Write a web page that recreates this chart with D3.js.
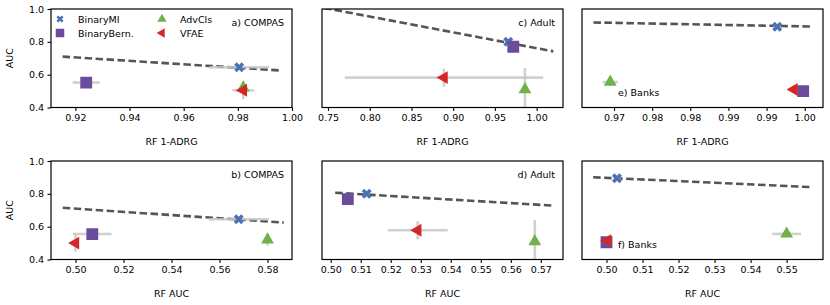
<!DOCTYPE html>
<html>
<head>
<meta charset="utf-8">
<script src="https://d3js.org/d3.v7.min.js"></script>
<style>
body { margin: 0; background: #fff; }
svg { font-family: "DejaVu Sans", sans-serif; }
</style>
</head>
<body>
<svg id="chart"></svg>
<script>

// Methods, in plotting order
var methods = ["BinaryMI", "BinaryBern.", "AdvCls", "VFAE"];
var colors = ["#4a72b8", "#6a4c9c", "#72b04a", "#d62728"];

// Panel ids and titles
var panelIds = ["a", "c", "e", "b", "d", "f"];
var panelTitles = ["a) COMPAS", "c) Adult", "e) Banks", "b) COMPAS", "d) Adult", "f) Banks"];
var xLabels = ["RF 1-ADRG", "RF 1-ADRG", "RF 1-ADRG", "RF AUC", "RF AUC", "RF AUC"];

// x domains
var xDomains = [[0.911, 1.0], [0.7428, 1.0316], [0.9658, 0.9974],
                [0.4898, 0.5902], [0.4971, 0.5774], [0.4932, 0.5601]];

// x ticks and their labels
var xTicks = [
  [0.92, 0.94, 0.96, 0.98, 1.00],
  [0.75, 0.80, 0.85, 0.90, 0.95, 1.00],
  [0.970, 0.975, 0.980, 0.985, 0.990, 0.995],
  [0.50, 0.52, 0.54, 0.56, 0.58],
  [0.50, 0.51, 0.52, 0.53, 0.54, 0.55, 0.56, 0.57],
  [0.50, 0.51, 0.52, 0.53, 0.54, 0.55]
];
var xTickLabels = [
  ["0.92", "0.94", "0.96", "0.98", "1.00"],
  ["0.75", "0.80", "0.85", "0.90", "0.95", "1.00"],
  ["0.97", "0.98", "0.98", "0.99", "0.99", "1.00"],
  ["0.50", "0.52", "0.54", "0.56", "0.58"],
  ["0.50", "0.51", "0.52", "0.53", "0.54", "0.55", "0.56", "0.57"],
  ["0.50", "0.51", "0.52", "0.53", "0.54", "0.55"]
];

var yTicks = [0.4, 0.6, 0.8, 1.0];
var yTickLabels = ["0.4", "0.6", "0.8", "1.0"];

// Point values per panel, one entry per method (MI, Bern, AdvCls, VFAE)
var xVals = [
  [0.9805, 0.924, 0.982, 0.982],
  [0.966, 0.972, 0.986, 0.889],
  [0.9914, 0.9948, 0.9695, 0.9936],
  [0.568, 0.507, 0.580, 0.500],
  [0.512, 0.5057, 0.568, 0.529],
  [0.5029, 0.5000, 0.550, 0.5003]
];
var yVals = [
  [0.645, 0.552, 0.52, 0.505],
  [0.80, 0.77, 0.51, 0.582],
  [0.892, 0.50, 0.555, 0.51],
  [0.645, 0.555, 0.52, 0.50],
  [0.80, 0.768, 0.51, 0.578],
  [0.895, 0.505, 0.556, 0.515]
];
var xErrs = [
  [0.011, 0.005, 0.001, 0.004],
  [0.004, 0.004, 0.0, 0.119],
  [0.0005, 0.0005, 0.001, 0.0005],
  [0.0125, 0.008, 0.0, 0.0],
  [0.001, 0.001, 0.0, 0.010],
  [0.001, 0.0005, 0.004, 0.0005]
];
var yErrs = [
  [0.01, 0.01, 0.03, 0.054],
  [0.01, 0.01, 0.13, 0.055],
  [0.005, 0.005, 0.005, 0.005],
  [0.01, 0.01, 0.035, 0.052],
  [0.005, 0.005, 0.13, 0.055],
  [0.005, 0.005, 0.005, 0.005]
];

// Dashed trend line: endpoints per panel
var trendX = [[0.9153, 0.9963], [0.745, 1.02], [0.9673, 0.9960],
              [0.4947, 0.5868], [0.5015, 0.5735], [0.4963, 0.5568]];
var trendY = [[0.710, 0.625], [1.007, 0.742], [0.918, 0.893],
              [0.715, 0.625], [0.807, 0.729], [0.901, 0.841]];

var width = 830, height = 305;
var colLeft = [51, 322, 582];
var axW = 241;
var rowTop = [9, 161];
var axH = 98.5;

var svg = d3.select("#chart").attr("width", width).attr("height", height);

// Marker shapes: X, square, up triangle, left triangle
function markerPath(i, scale) {
  var s = scale || 1;
  if (i === 0) return d3.symbol().type(d3.symbolCross).size(62 * s * s)();
  if (i === 1) return d3.symbol().type(d3.symbolSquare).size(140 * s * s)();
  return d3.symbol().type(d3.symbolTriangle).size(72 * s * s)();
}
function markerRotate(i) {
  if (i === 0) return 45;
  if (i === 3) return -90;
  return 0;
}

panelIds.forEach(function (id, p) {
  var col = p % 3, row = Math.floor(p / 3);
  var left = colLeft[col], top = rowTop[row];

  var x = d3.scaleLinear().domain(xDomains[p]).range([0, axW]);
  var y = d3.scaleLinear().domain([0.4, 1.0]).range([axH, 0]);

  var g = svg.append("g").attr("transform", "translate(" + left + "," + top + ")");

  svg.append("clipPath").attr("id", "clip-" + id)
    .append("rect").attr("width", axW).attr("height", axH);

  var plot = g.append("g").attr("clip-path", "url(#clip-" + id + ")");

  // trend line
  plot.append("line")
    .attr("x1", x(trendX[p][0])).attr("y1", y(trendY[p][0]))
    .attr("x2", x(trendX[p][1])).attr("y2", y(trendY[p][1]))
    .attr("stroke", "#555").attr("stroke-width", 2.6)
    .attr("stroke-dasharray", "7.5,3.5");

  // error bars + markers, in method order
  methods.forEach(function (m, i) {
    var cx = x(xVals[p][i]), cy = y(yVals[p][i]);
    var eg = plot.append("g").attr("opacity", 0.85);
    eg.append("line")
      .attr("x1", x(xVals[p][i] - xErrs[p][i])).attr("x2", x(xVals[p][i] + xErrs[p][i]))
      .attr("y1", cy).attr("y2", cy)
      .attr("stroke", "#c8c8c8").attr("stroke-width", 2.6);
    eg.append("line")
      .attr("x1", cx).attr("x2", cx)
      .attr("y1", y(yVals[p][i] - yErrs[p][i])).attr("y2", y(yVals[p][i] + yErrs[p][i]))
      .attr("stroke", "#c8c8c8").attr("stroke-width", 2.6);
  });
  methods.forEach(function (m, i) {
    plot.append("path")
      .attr("d", markerPath(i))
      .attr("transform", "translate(" + x(xVals[p][i]) + "," + y(yVals[p][i]) + ") rotate(" + markerRotate(i) + ")")
      .attr("fill", colors[i]);
  });

  // axes
  var xAxis = d3.axisBottom(x).tickValues(xTicks[p])
    .tickFormat(function (d, k) { return xTickLabels[p][k]; })
    .tickSize(3.5).tickPadding(3.5);
  var xg = g.append("g").attr("transform", "translate(0," + axH + ")").call(xAxis);

  var yAxis = d3.axisLeft(y).tickValues(yTicks)
    .tickFormat(function (d, k) { return col === 0 ? yTickLabels[k] : ""; })
    .tickSize(col === 0 ? 3.5 : 0).tickPadding(3.5);
  var yg = g.append("g").call(yAxis);

  [xg, yg].forEach(function (ax) {
    ax.select(".domain").remove();
    ax.selectAll(".tick line").attr("stroke", "#000").attr("stroke-width", 1.1);
    ax.selectAll(".tick text").attr("font-size", 9.5).attr("fill", "#000")
      .attr("font-family", "DejaVu Sans, sans-serif");
  });

  // frame
  g.append("rect").attr("width", axW).attr("height", axH)
    .attr("fill", "none").attr("stroke", "#000").attr("stroke-width", 1.2);

  // x label
  g.append("text").attr("x", axW / 2).attr("y", axH + 37)
    .attr("text-anchor", "middle").attr("font-size", 9.5).text(xLabels[p]);

  // y label
  if (col === 0) {
    g.append("text").attr("transform", "translate(-38," + (axH / 2) + ") rotate(-90)")
      .attr("text-anchor", "middle").attr("font-size", 9.5).text("AUC");
  }

  // panel title
  if (col === 2) {
    g.append("text").attr("x", 36).attr("y", axH - 11.5)
      .attr("font-size", 9.5).text(panelTitles[p]);
  } else {
    g.append("text").attr("x", axW - 8).attr("y", 16.5)
      .attr("text-anchor", "end").attr("font-size", 9.5).text(panelTitles[p]);
  }

  // legend in the first panel
  if (p === 0) {
    var legX = [9, 111, 9, 111];
    var legY = [10, 24, 24, 10];
    var legOrder = [0, 1, 2, 3];
    var legPos = [[9, 10], [9, 24], [111, 10], [111, 24]];
    legOrder.forEach(function (i) {
      var lg = g.append("g").attr("transform", "translate(" + legPos[i][0] + "," + legPos[i][1] + ")");
      lg.append("path").attr("d", markerPath(i, 0.72))
        .attr("transform", "rotate(" + markerRotate(i) + ")")
        .attr("fill", colors[i]);
      lg.append("text").attr("x", 18).attr("y", 3.5)
        .attr("font-size", 9.5).text(methods[i]);
    });
  }
});

</script>
</body>
</html>
